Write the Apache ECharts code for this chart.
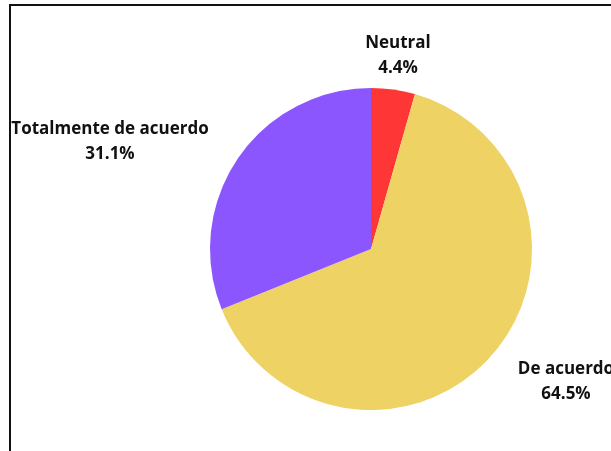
<!DOCTYPE html>
<html>
<head>
<meta charset="utf-8">
<script src="https://cdn.jsdelivr.net/npm/echarts@6/dist/echarts.min.js"></script>
<style>
  html, body { margin: 0; padding: 0; background: #fff; }
  #frame {
    position: absolute; left: 9px; top: 4px; right: -4px; bottom: -4px;
    border-left: 2px solid #111; border-top: 2px solid #111;
  }
  #chart { position: absolute; left: 0; top: 0; width: 611px; height: 451px; }
</style>
</head>
<body>
<div id="frame"></div>
<div id="chart"></div>
<script>
// answer categories, in clockwise order from 12 o'clock
const categories = ['Neutral', 'De acuerdo', 'Totalmente de acuerdo'];
const shares = [4.4, 64.5, 31.1];
const colors = ['#ff3636', '#efd264', '#8c56ff'];

// where each label sits (label centre), same order as categories
const labelSpots = [[398, 56], [566, 382], [110, 142]];

const chart = echarts.init(document.getElementById('chart'));
chart.setOption({
  animation: false,
  series: [{
    type: 'pie',
    center: [371, 249],
    radius: 161,
    startAngle: 90,
    data: categories.map((name, i) => ({
      name: name,
      value: shares[i],
      itemStyle: { color: colors[i] }
    })),
    label: {
      show: true,
      position: 'outside',
      formatter: p => p.name + '\n' + p.value.toFixed(1) + '%',
      fontFamily: 'Open Sans',
      fontWeight: 'bold',
      fontSize: 17,
      lineHeight: 25,
      color: '#111',
      align: 'center',
      overflow: 'none',
      width: 300
    },
    labelLine: { show: false },
    labelLayout: function (params) {
      const spot = labelSpots[params.dataIndex];
      return { x: spot[0], y: spot[1], align: 'center', verticalAlign: 'middle' };
    }
  }]
});
</script>
</body>
</html>
